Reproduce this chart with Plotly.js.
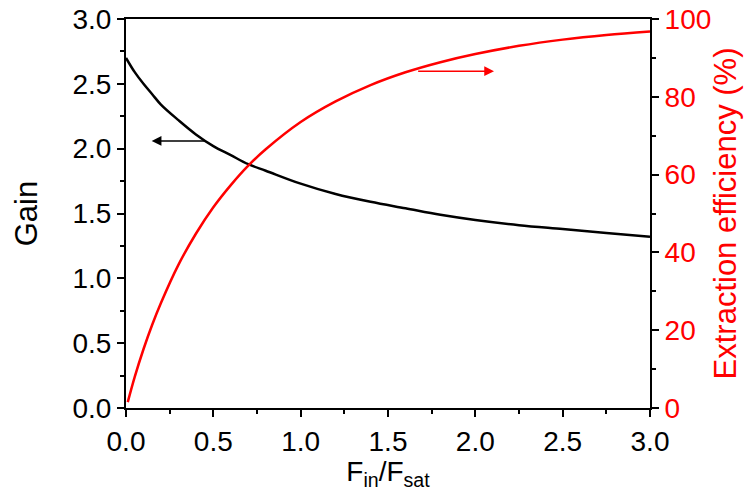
<!DOCTYPE html>
<html>
<head>
<meta charset="utf-8">
<script src="https://cdn.plot.ly/plotly-3.0.1.min.js"></script>
<style>html,body{margin:0;padding:0;background:#fff;}#chart{width:746px;height:491px;}</style>
</head>
<body>
<div id="chart"></div>
<script>
// Gain curve (left axis)
const gainX = [0, 0.05, 0.1, 0.15, 0.2, 0.3, 0.4, 0.5, 0.6, 0.7, 0.8, 1.0, 1.2, 1.4, 1.6, 1.8, 2.0, 2.25, 2.5, 2.75, 3.0];
const gainY = [2.70, 2.59, 2.50, 2.42, 2.34, 2.22, 2.11, 2.02, 1.95, 1.88, 1.83, 1.73, 1.65, 1.59, 1.54, 1.49, 1.45, 1.41, 1.38, 1.35, 1.32];
// Extraction efficiency (right axis, %)
const effX = [0.01, 0.05, 0.1, 0.15, 0.2, 0.3, 0.4, 0.5, 0.6, 0.7, 0.8, 1.0, 1.2, 1.4, 1.6, 1.8, 2.0, 2.25, 2.5, 2.75, 3.0];
const effY = [1.5, 8.0, 15.1, 21.4, 27.0, 36.8, 44.8, 51.6, 57.3, 62.3, 66.5, 73.5, 78.8, 83.0, 86.3, 88.9, 91.0, 93.1, 94.7, 95.9, 96.8];
// Tick labels
const xTicks = [0, 0.5, 1.0, 1.5, 2.0, 2.5, 3.0];
const xTickText = ["0.0", "0.5", "1.0", "1.5", "2.0", "2.5", "3.0"];
const yTicks = [0, 0.5, 1.0, 1.5, 2.0, 2.5, 3.0];
const yTickText = ["0.0", "0.5", "1.0", "1.5", "2.0", "2.5", "3.0"];
const y2Ticks = [0, 20, 40, 60, 80, 100];
const y2TickText = ["0", "20", "40", "60", "80", "100"];
// Arrow annotations (data coordinates)
const gainArrow = {tipX: 0.147, tailX: 0.462, y: 2.06};
const effArrow = {tipX: 2.107, tailX: 1.664, y: 86.6};

const font = "Liberation Sans, Arial, sans-serif";

const traces = [
  {x: gainX, y: gainY, type: 'scatter', mode: 'lines', line: {color: '#000', width: 2.5, shape: 'spline', smoothing: 1}, yaxis: 'y', showlegend: false},
  {x: effX, y: effY, type: 'scatter', mode: 'lines', line: {color: '#ff0000', width: 2.5, shape: 'spline', smoothing: 1}, yaxis: 'y2', showlegend: false}
];

const layout = {
  width: 746, height: 491,
  margin: {l: 126, r: 96, t: 19, b: 83},
  paper_bgcolor: '#fff', plot_bgcolor: '#fff',
  font: {family: font, size: 28, color: '#000'},
  xaxis: {
    range: [0, 3], tickvals: xTicks, ticktext: xTickText,
    showgrid: false, zeroline: false,
    showline: true, linecolor: '#000', linewidth: 2, mirror: true,
    ticks: 'outside', ticklen: 7, tickwidth: 2, tickcolor: '#000',
    minor: {dtick: 0.25, ticks: 'outside', ticklen: 4, tickwidth: 2, tickcolor: '#000', showgrid: false},
    tickfont: {size: 28, family: font},
    title: {text: 'F<sub>in</sub>/F<sub>sat</sub>', font: {size: 28, family: font}, standoff: 8}
  },
  yaxis: {
    range: [0, 3], tickvals: yTicks, ticktext: yTickText,
    showgrid: false, zeroline: false,
    showline: true, linecolor: '#000', linewidth: 2,
    ticks: 'outside', ticklen: 7, tickwidth: 2, tickcolor: '#000',
    minor: {dtick: 0.25, ticks: 'outside', ticklen: 4, tickwidth: 2, tickcolor: '#000', showgrid: false},
    tickfont: {size: 28, family: font},
    title: {text: 'Gain', font: {size: 31, family: font}, standoff: 26}
  },
  yaxis2: {
    range: [0, 100], tickvals: y2Ticks, ticktext: y2TickText,
    overlaying: 'y', side: 'right',
    showgrid: false, zeroline: false,
    showline: true, linecolor: '#000', linewidth: 2,
    ticks: 'outside', ticklen: 7, tickwidth: 2, tickcolor: '#000',
    minor: {dtick: 10, ticks: 'outside', ticklen: 4, tickwidth: 2, tickcolor: '#000', showgrid: false},
    tickfont: {size: 28, family: font, color: '#ff0000'},
    title: {text: 'Extraction efficiency (%)', font: {size: 31, family: font, color: '#ff0000'}, standoff: 4}
  },
  annotations: [
    {x: gainArrow.tipX, y: gainArrow.y, xref: 'x', yref: 'y', ax: gainArrow.tailX, ay: gainArrow.y, axref: 'x', ayref: 'y',
     text: '', showarrow: true, arrowhead: 2, arrowsize: 1.3, arrowwidth: 1.5, arrowcolor: '#000'},
    {x: effArrow.tipX, y: effArrow.y, xref: 'x', yref: 'y2', ax: effArrow.tailX, ay: effArrow.y, axref: 'x', ayref: 'y2',
     text: '', showarrow: true, arrowhead: 2, arrowsize: 1.3, arrowwidth: 1.5, arrowcolor: '#ff0000'}
  ]
};

Plotly.newPlot('chart', traces, layout, {displayModeBar: false, staticPlot: true});
</script>
</body>
</html>
